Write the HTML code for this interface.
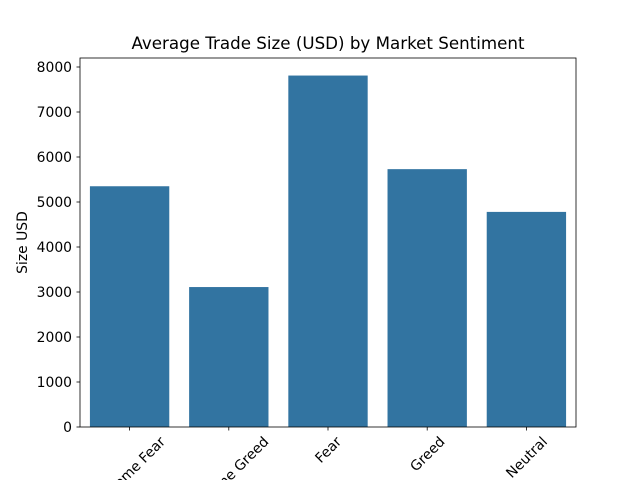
<!DOCTYPE html>
<html><head><meta charset="utf-8"><style>
html,body{margin:0;padding:0;background:#fff;width:640px;height:480px;overflow:hidden;}
svg{display:block;overflow:hidden;font-family:"DejaVu Sans","Liberation Sans",sans-serif;}
</style></head><body>
<svg id="chart" width="640" height="480" viewBox="0 0 640 480">
<defs><clipPath id="frame"><rect width="640" height="480"/></clipPath></defs>
<g clip-path="url(#frame)">
<rect width="640" height="480" fill="#fff"/>
<text x="328" y="49" text-anchor="middle" font-size="16.7" fill="#000">Average Trade Size (USD) by Market Sentiment</text>
<text transform="translate(27,242.5) rotate(-90)" text-anchor="middle" font-size="13.9" fill="#000">Size USD</text>
<g id="bars"></g>
<g id="yticks"></g>
<g id="xticks"></g>
<rect x="80" y="58" width="496" height="369" fill="none" stroke="#000" stroke-width="0.8"/>
</g>
</svg>
<script>
const categories = ["Extreme Fear", "Extreme Greed", "Fear", "Greed", "Neutral"];
const values = [5350, 3110, 7810, 5730, 4780];
const yTicks = [0, 1000, 2000, 3000, 4000, 5000, 6000, 7000, 8000];

const NS = "http://www.w3.org/2000/svg";
const L = 80, R = 576, T = 58, B = 427, YMAX = 8200;
const y = v => B - v / YMAX * (B - T);
const step = (R - L) / categories.length;
const x = i => L + step * (i + 0.5);
const bw = step * 0.8;
function mk(tag, attrs, parent) {
  const e = document.createElementNS(NS, tag);
  for (const k in attrs) e.setAttribute(k, attrs[k]);
  parent.appendChild(e);
  return e;
}
const gb = document.getElementById("bars");
values.forEach((v, i) => {
  const r = mk("rect", {x: x(i) - bw / 2, y: y(v), width: bw, height: B - y(v), fill: "#3274a1"}, gb);
  
  
});
const gy = document.getElementById("yticks");
yTicks.forEach(t => {
  const l = mk("line", {x1: 80, x2: 76.5, y1: y(t), y2: y(t), stroke: "#000", "stroke-width": 0.8}, gy);
  
  
  const tx = mk("text", {x: 72, y: y(t) + 5, "text-anchor": "end", "font-size": 13.9}, gy);
  tx.textContent = t;
  
  
});
const gx = document.getElementById("xticks");
categories.forEach((c, i) => {
  const l = mk("line", {x1: x(i), x2: x(i), y1: 427, y2: 430.5, stroke: "#000", "stroke-width": 0.8}, gx);
  
  
  const tx = mk("text", {"text-anchor": "middle", "font-size": 13.9}, gx);
  tx.textContent = c;
  
  
  let w = 7.5 * c.length;
  try { w = tx.getComputedTextLength(); } catch (e) {}
  const half = (w + 14) * Math.SQRT1_2 / 2;
  tx.setAttribute("transform", `translate(${x(i)},${434 + half}) rotate(-45)`);
  tx.setAttribute("y", 5);
});
</script>
</body></html>
